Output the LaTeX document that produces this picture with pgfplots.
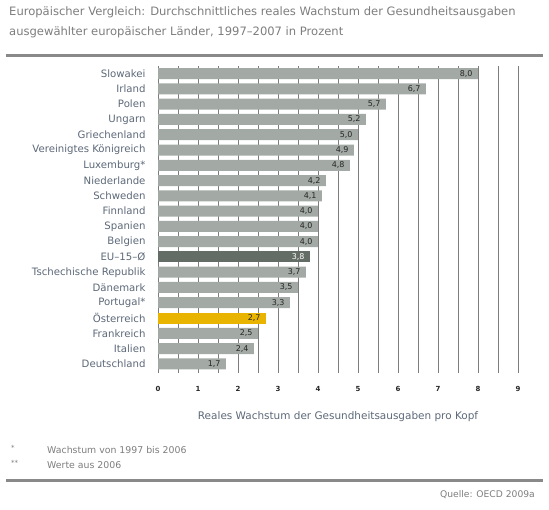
\documentclass[border=0pt]{standalone}
\usepackage{fontspec}
\setmainfont{DejaVu Sans}
\usepackage{pgfplots}
\pgfplotsset{compat=1.18}
\definecolor{titlegray}{RGB}{125,125,125}
\definecolor{rulegray}{RGB}{137,137,137}
\definecolor{catcol}{RGB}{92,104,120}
\definecolor{barg}{RGB}{163,170,165}
\definecolor{eug}{RGB}{100,108,102}
\definecolor{atgold}{RGB}{232,180,0}
\definecolor{gridg}{RGB}{125,125,125}
\begin{document}
\begin{tikzpicture}
\path[use as bounding box] (0,0) rectangle (549bp,-510bp);
\node[anchor=base west, text=titlegray, font=\fontsize{11.6}{14}\selectfont, inner sep=0] at (9bp,-15bp) {Europäischer Vergleich: Durchschnittliches reales Wachstum der Gesundheitsausgaben};
\node[anchor=base west, text=titlegray, font=\fontsize{11.6}{14}\selectfont, inner sep=0] at (9bp,-35bp) {ausgewählter europäischer Länder, 1997–2007 in Prozent};
\fill[rulegray] (6bp,-53.5bp) rectangle (543bp,-56.5bp);
\begin{axis}[
  at={(158bp,-373bp)}, anchor=south west,
  scale only axis, width=360bp, height=307bp,
  xmin=0, xmax=9, ymin=-0.5, ymax=19.6, y dir=reverse,
  xbar, bar width=11bp,
  xtick={0,...,9}, minor xtick={0.5,1.5,...,8.5},
  xticklabels={0,1,2,3,4,5,6,7,8,9},
  xmajorgrids, xminorgrids,
  major grid style={gridg, line width=0.6bp},
  minor grid style={gridg, line width=0.6bp},
  ytick={0,...,19},
  yticklabels={Slowakei, Irland, Polen, Ungarn, Griechenland, Vereinigtes Königreich, Luxemburg*, Niederlande, Schweden, Finnland, Spanien, Belgien, EU–15–Ø, Tschechische Republik, Dänemark, Portugal*, Österreich, Frankreich, Italien, Deutschland},
  axis y line*=left, axis x line*=bottom,
  x axis line style={draw=none},
  y axis line style={gridg, line width=0.8bp, -},
  major tick length=0pt, minor tick length=0pt,
  xticklabel style={font=\bfseries\fontsize{7}{8}\selectfont, text=black!85, yshift=-10bp},
  yticklabel style={font=\fontsize{10.2}{12}\selectfont, text=catcol, xshift=-9bp},
  xlabel={Reales Wachstum der Gesundheitsausgaben pro Kopf},
  xlabel style={font=\fontsize{10.5}{12}\selectfont, text=catcol, yshift=-13bp},
  nodes near coords={\pgfmathprintnumber[fixed, fixed zerofill, precision=1, use comma, assume math mode=true]{\pgfplotspointmeta}},
  point meta=explicit,
  nodes near coords align={anchor=east},
  every node near coord/.append style={font=\fontsize{8}{9}\selectfont, xshift=-2bp},
]
\addplot[fill=barg, draw=none, bar shift=0pt, every node near coord/.append style={text=black!85}] coordinates {
(8.0,0) [8.0] (6.7,1) [6.7] (5.7,2) [5.7] (5.2,3) [5.2] (5.0,4) [5.0] (4.9,5) [4.9] (4.8,6) [4.8]
(4.2,7) [4.2] (4.1,8) [4.1] (4.0,9) [4.0] (4.0,10) [4.0] (4.0,11) [4.0]
(3.7,13) [3.7] (3.5,14) [3.5] (3.3,15) [3.3] (2.5,17) [2.5] (2.4,18) [2.4] (1.7,19) [1.7]
};
\addplot[fill=eug, draw=none, bar shift=0pt, every node near coord/.append style={text=white}] coordinates {(3.8,12) [3.8]};
\addplot[fill=atgold, draw=none, bar shift=0pt, every node near coord/.append style={text=black!85}] coordinates {(2.7,16) [2.7]};
\end{axis}
\node[anchor=west, font=\fontsize{7}{9}\selectfont, text=titlegray, inner sep=0] at (11bp,-448bp) {*};
\node[anchor=west, font=\fontsize{9.4}{11}\selectfont, text=titlegray, inner sep=0] at (47bp,-450bp) {Wachstum von 1997 bis 2006};
\node[anchor=west, font=\fontsize{7}{9}\selectfont, text=titlegray, inner sep=0] at (11bp,-463bp) {**};
\node[anchor=west, font=\fontsize{9.4}{11}\selectfont, text=titlegray, inner sep=0] at (47bp,-465bp) {Werte aus 2006};
\fill[rulegray] (6bp,-478.5bp) rectangle (543bp,-481.5bp);
\node[anchor=east, font=\fontsize{9.2}{11}\selectfont, text=titlegray, inner sep=0] at (535bp,-495bp) {Quelle: OECD 2009a};
\end{tikzpicture}
\end{document}
